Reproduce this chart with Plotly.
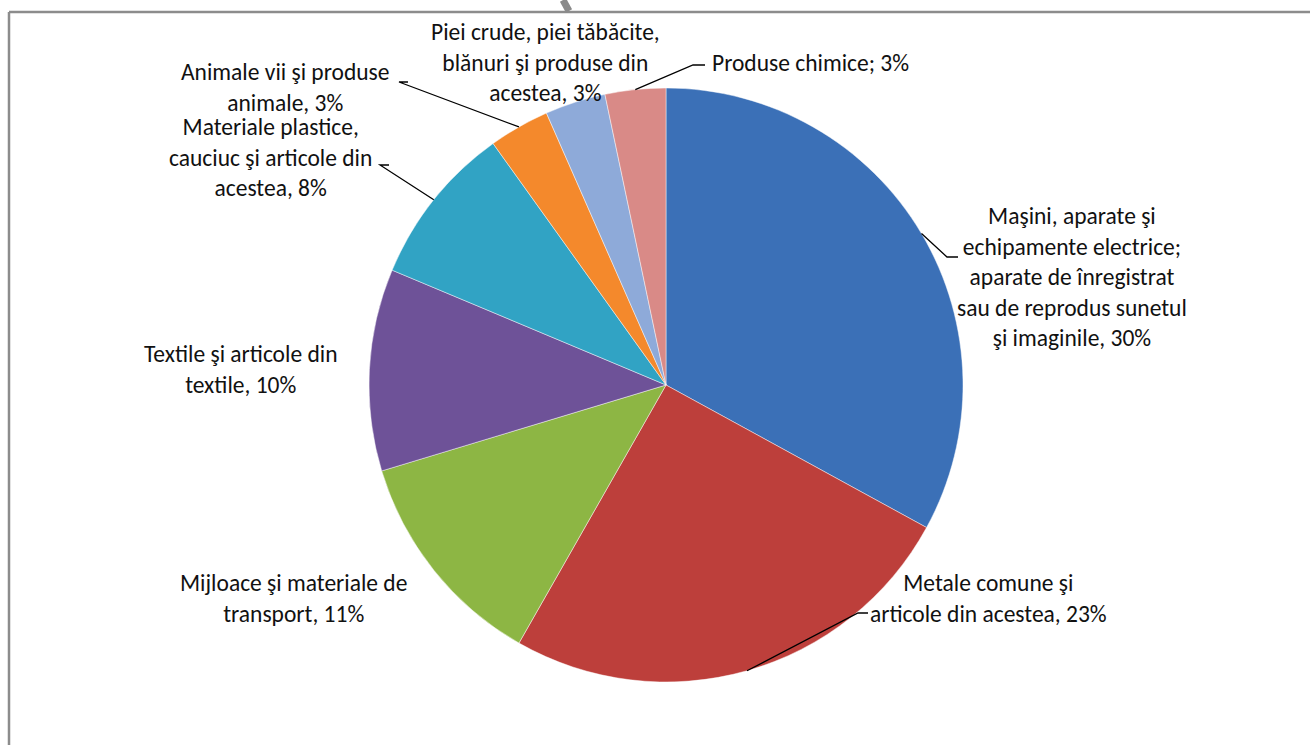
import math
import plotly.graph_objects as go

# export structure shares (%), clockwise from 12 o'clock
categories = [
    "Maşini, aparate şi<br>echipamente electrice;<br>aparate de înregistrat<br>sau de reprodus sunetul<br>şi imaginile",
    "Metale comune şi<br>articole din acestea",
    "Mijloace şi materiale de<br>transport",
    "Textile şi articole din<br>textile",
    "Materiale plastice,<br>cauciuc şi articole din<br>acestea",
    "Animale vii şi produse<br>animale",
    "Piei crude, piei tăbăcite,<br>blănuri şi produse din<br>acestea",
    "Produse chimice",
]
values = [30, 23, 11, 10, 8, 3, 3, 3]
separators = [", ", ", ", ", ", ", ", ", ", ", ", ", ", "; "]

colors = ["#3b70b7", "#bd3f3b", "#8db644", "#6e5298", "#31a3c4", "#f4892c", "#8eaad9", "#d98a87"]

W, H = 1310, 745
cx, cy, r = 666, 385, 297

# label centres (px) and leader elbows (px, None = no leader)
label_pos = [(1072, 277), (988, 598), (293, 598), (241, 370), (270, 158), (285, 87), (545, 62), (710, 63)]
elbows = [
    [(958, 257), (947, 257)],
    [(868, 613), (858, 613)],
    None,
    None,
    [(389, 165), (380, 165)],
    [(408, 82), (399, 82)],
    None,
    [(705, 65), (693, 65)],
]


def paper(x, y):
    return x / W, 1 - y / H


fig = go.Figure()
fig.add_trace(go.Pie(
    labels=[c.replace("<br>", " ") for c in categories],
    values=values,
    sort=False,
    direction="clockwise",
    rotation=0,
    textinfo="none",
    marker=dict(colors=colors, line=dict(color="rgba(255,255,255,0.45)", width=1)),
    domain=dict(x=[(cx - r) / W, (cx + r) / W], y=[1 - (cy + r) / H, 1 - (cy - r) / H]),
    showlegend=False,
))

total = sum(values)
cum = 0
annotations = []
shapes = []
for i, (name, v) in enumerate(zip(categories, values)):
    mid = math.radians(360 * (cum + v / 2) / total)
    cum += v
    lx, ly = label_pos[i]
    xa = "left" if i == 7 else "center"
    ax, ay = paper(lx, ly)
    annotations.append(dict(
        x=ax, y=ay, xref="paper", yref="paper", showarrow=False,
        text=f"{name}{separators[i]}{v}%", xanchor=xa, yanchor="middle",
        align="center", font=dict(size=23.5, color="#111111"),
    ))
    if elbows[i]:
        ex, ey = cx + r * math.sin(mid), cy - r * math.cos(mid)
        pts = [paper(*p) for p in elbows[i]] + [paper(ex, ey)]
        path = "M " + " L ".join(f"{x:.5f},{y:.5f}" for x, y in pts)
        shapes.append(dict(type="path", xref="paper", yref="paper", path=path,
                           line=dict(color="black", width=1.3)))

# frame of the chart area
shapes.append(dict(type="line", xref="paper", yref="paper", x0=9 / W, x1=1, y0=1 - 12 / H, y1=1 - 12 / H,
                   line=dict(color="#8c8c8c", width=2.5)))
shapes.append(dict(type="line", xref="paper", yref="paper", x0=9 / W, x1=9 / W, y0=0, y1=1 - 12 / H,
                   line=dict(color="#8c8c8c", width=2.5)))
# grey stroke cut at the top edge
shapes.append(dict(type="line", xref="paper", yref="paper", x0=563 / W, x1=569 / W, y0=1, y1=1 - 11 / H,
                   line=dict(color="#8a8a8a", width=7)))

fig.update_layout(
    width=W, height=H,
    margin=dict(l=0, r=0, t=0, b=0),
    paper_bgcolor="white",
    plot_bgcolor="white",
    font=dict(family="Calibri, Carlito, Lato, sans-serif", size=23.5),
    annotations=annotations,
    shapes=shapes,
)

fig.write_html("out.html", config={"displayModeBar": False},
               post_script="document.body.style.margin = '0px';")
